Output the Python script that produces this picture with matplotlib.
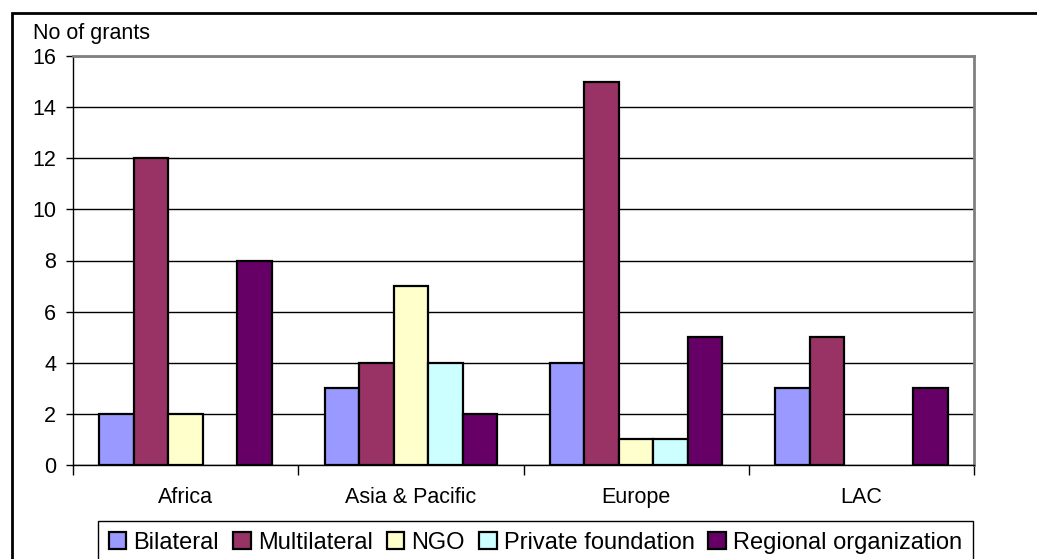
import matplotlib.pyplot as plt
import numpy as np
from matplotlib.patches import Rectangle

plt.rcParams['font.family'] = ['Liberation Sans', 'DejaVu Sans']

# chart data
regions = ["Africa", "Asia & Pacific", "Europe", "LAC"]
donor_types = ["Bilateral", "Multilateral", "NGO", "Private foundation", "Regional organization"]
bilateral = [2, 3, 4, 3]
multilateral = [12, 4, 15, 5]
ngo = [2, 7, 1, 0]
private_foundation = [0, 4, 1, 0]
regional_org = [8, 2, 5, 3]
series = [bilateral, multilateral, ngo, private_foundation, regional_org]
colors = ["#9999FF", "#993366", "#FFFFCC", "#CCFFFF", "#660066"]
y_ticks = [0, 2, 4, 6, 8, 10, 12, 14, 16]

W, H = 1037, 559
fig = plt.figure(figsize=(W / 100, H / 100), dpi=100)

# outer chart border (runs off right and bottom edges)
fig.patches.append(Rectangle((12 / W, -0.1), 1.2, (H - 13) / H + 0.1,
                             transform=fig.transFigure, fill=False,
                             edgecolor="black", linewidth=2))

left, right, top, bottom = 73, 974, 56, 465
ax = fig.add_axes([left / W, (H - bottom) / H, (right - left) / W, (bottom - top) / H])

x = np.arange(len(regions))
bw = 0.153
for i, (vals, name, c) in enumerate(zip(series, donor_types, colors)):
    vals = np.array(vals)
    mask = vals > 0
    ax.bar(x[mask] + (i - 2) * bw, vals[mask], width=bw, color=c,
           edgecolor="black", linewidth=1.6, label=name, zorder=3)

ax.set_xlim(-0.5, len(regions) - 0.5)
ax.set_ylim(0, 16)
ax.set_yticks(y_ticks)
ax.tick_params(axis="y", direction="out", length=5, width=1, labelsize=15.5, pad=7)
ax.yaxis.grid(True, color="black", linewidth=1, zorder=0)

# category boundaries as major ticks, names as minor ticks
ax.set_xticks(np.arange(len(regions) + 1) - 0.5)
ax.set_xticklabels([])
ax.set_xticks(x, minor=True)
ax.set_xticklabels(regions, minor=True)
ax.tick_params(axis="x", which="major", direction="out", length=7, width=1)
ax.tick_params(axis="x", which="minor", length=0, labelsize=15.5, pad=16)

for s in ["left", "bottom"]:
    ax.spines[s].set_color("black")
    ax.spines[s].set_linewidth(1)
for s in ["top", "right"]:
    ax.spines[s].set_color("#808080")
    ax.spines[s].set_linewidth(2)
ax.set_axisbelow(True)

fig.text(33 / W, (H - 33) / H, "No of grants", fontsize=15.5, ha="left", va="center")

leg = fig.legend(loc="upper left", bbox_to_anchor=(98 / W, (H - 561) / H, (973 - 98) / W, 40 / H),
                 mode="expand", ncol=5, fontsize=17, frameon=True, fancybox=False,
                 edgecolor="black", framealpha=1, handlelength=0.75, handleheight=0.75,
                 handletextpad=0.3, columnspacing=0.5, borderpad=0.45,
                 borderaxespad=0)
leg.get_frame().set_linewidth(1)

fig.savefig("out.png", dpi=100)
